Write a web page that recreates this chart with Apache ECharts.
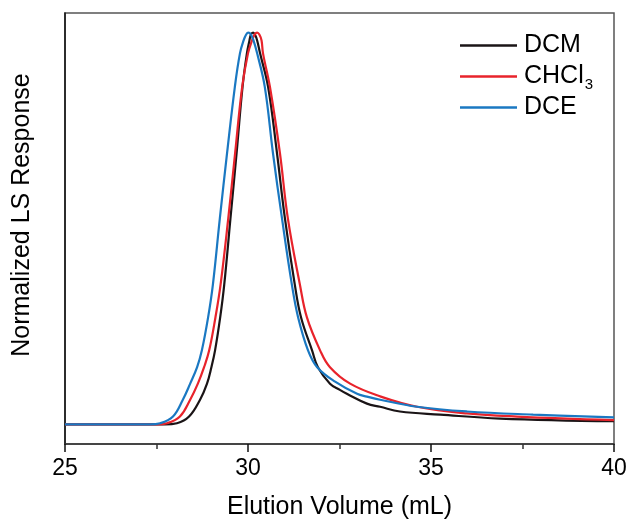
<!DOCTYPE html>
<html>
<head>
<meta charset="utf-8">
<script src="https://cdn.jsdelivr.net/npm/echarts@6/dist/echarts.min.js"></script>
<style>
html,body{margin:0;padding:0;background:#fff;}
#main{width:630px;height:525px;}
</style>
</head>
<body>
<div id="main"></div>
<script>
var seriesNames = ['DCM', 'CHCl3', 'DCE'];
var xTicks = [25, 30, 35, 40];

var dcmVol  = [25, 27.73, 28.06, 28.39, 28.69, 28.88, 29.00, 29.10, 29.24, 29.35, 29.52, 29.69, 29.85, 29.97, 30.04, 30.08, 30.14, 30.19, 30.25, 30.33, 30.55, 30.79, 31.01, 31.28, 31.45, 31.75, 31.91, 32.24, 32.51, 32.70, 33.25, 33.61, 34.15, 35.25, 36.89, 40];
var dcmResp = [0, 0, 0.003, 0.020, 0.063, 0.104, 0.146, 0.189, 0.273, 0.356, 0.525, 0.694, 0.861, 0.947, 0.980, 0.995, 1.0, 0.995, 0.980, 0.947, 0.861, 0.694, 0.525, 0.356, 0.273, 0.189, 0.146, 0.104, 0.088, 0.078, 0.053, 0.045, 0.033, 0.025, 0.015, 0.008];

var chcl3Vol  = [25, 27.51, 27.79, 28.14, 28.42, 28.63, 28.80, 28.94, 29.11, 29.25, 29.46, 29.65, 29.84, 30.00, 30.11, 30.18, 30.25, 30.31, 30.37, 30.41, 30.60, 30.87, 31.09, 31.42, 31.61, 31.97, 32.24, 32.79, 33.63, 34.62, 35.98, 37.35, 40];
var chcl3Resp = [0, 0, 0.003, 0.020, 0.063, 0.104, 0.146, 0.189, 0.273, 0.356, 0.525, 0.694, 0.861, 0.947, 0.980, 0.995, 1.0, 0.995, 0.980, 0.947, 0.861, 0.694, 0.525, 0.356, 0.273, 0.189, 0.146, 0.104, 0.071, 0.045, 0.028, 0.020, 0.011];

var dceVol  = [25, 27.32, 27.60, 27.95, 28.22, 28.42, 28.61, 28.74, 28.91, 29.04, 29.23, 29.43, 29.64, 29.78, 29.88, 29.95, 30.01, 30.08, 30.15, 30.25, 30.46, 30.68, 30.93, 31.20, 31.37, 31.64, 31.89, 32.38, 32.98, 33.25, 33.61, 34.62, 35.98, 37.79, 40];
var dceResp = [0, 0, 0.003, 0.020, 0.063, 0.104, 0.146, 0.189, 0.273, 0.356, 0.525, 0.694, 0.861, 0.947, 0.980, 0.995, 1.0, 0.995, 0.980, 0.947, 0.861, 0.694, 0.525, 0.356, 0.273, 0.189, 0.146, 0.109, 0.078, 0.071, 0.063, 0.045, 0.033, 0.025, 0.018];

var colors = ['#1a1416', '#e8232b', '#1a78c2'];

function pairs(xs, ys) {
  var out = [];
  for (var i = 0; i < xs.length; i++) out.push([xs[i], ys[i]]);
  return out;
}

var FONT = 'Liberation Sans, Arial, sans-serif';
var chart = echarts.init(document.getElementById('main'), null, {renderer: 'canvas'});

var dataSets = [pairs(dcmVol, dcmResp), pairs(chcl3Vol, chcl3Resp), pairs(dceVol, dceResp)];

chart.setOption({
  animation: false,
  backgroundColor: '#fff',
  grid: {left: 65, right: 16, top: 13, bottom: 77, show: true, borderColor: '#555', borderWidth: 1.5, backgroundColor: 'transparent'},
  legend: {
    orient: 'vertical',
    left: 460,
    top: 33,
    padding: 0,
    itemWidth: 57,
    itemHeight: 2.5,
    itemGap: 3,
    icon: 'rect',
    data: seriesNames,
    formatter: function (name) {
      if (name === 'CHCl3') return '{n|CHCl}{s|3}';
      return '{n|' + name + '}';
    },
    textStyle: {
      fontFamily: FONT,
      color: '#000',
      padding: [0, 0, 0, 2],
      rich: {
        n: {fontSize: 25, lineHeight: 30, fontFamily: FONT, color: '#000'},
        s: {fontSize: 15, lineHeight: 30, fontFamily: FONT, color: '#000', padding: [16, 0, 0, 1]}
      }
    }
  },
  xAxis: {
    type: 'value',
    min: 25,
    max: 40,
    interval: 5,
    name: 'Elution Volume (mL)',
    nameLocation: 'middle',
    nameGap: 51,
    nameTextStyle: {fontFamily: FONT, fontSize: 25, color: '#000'},
    axisLine: {show: true, onZero: false, lineStyle: {color: '#333', width: 1.5}},
    axisTick: {show: true, inside: false, length: 8, lineStyle: {color: '#111', width: 1.5}},
    minorTick: {show: true, splitNumber: 2, length: 5, lineStyle: {color: '#333', width: 1.5}},
    splitLine: {show: false},
    axisLabel: {
      fontFamily: FONT, fontSize: 23, color: '#000', margin: 13,
      formatter: function (v) { return xTicks.indexOf(v) >= 0 ? String(v) : ''; }
    }
  },
  yAxis: {
    type: 'value',
    min: -0.05,
    max: 1.05,
    axisLine: {show: true, onZero: false, lineStyle: {color: '#111', width: 1.5}},
    axisTick: {show: false},
    axisLabel: {show: false},
    splitLine: {show: false}
  },
  graphic: [{
    type: 'text',
    x: 22,
    y: 215,
    rotation: Math.PI / 2,
    style: {
      text: 'Normalized LS Response',
      fontFamily: FONT,
      fontSize: 25,
      fill: '#000',
      align: 'center',
      verticalAlign: 'middle'
    }
  }],
  series: seriesNames.map(function (n, i) {
    return {
      name: n,
      type: 'line',
      data: dataSets[i],
      showSymbol: false,
      symbol: 'none',
      smooth: 0.4,
      color: colors[i],
      lineStyle: {color: colors[i], width: 2.2},
      z: 2 + i
    };
  })
});
</script>
</body>
</html>
